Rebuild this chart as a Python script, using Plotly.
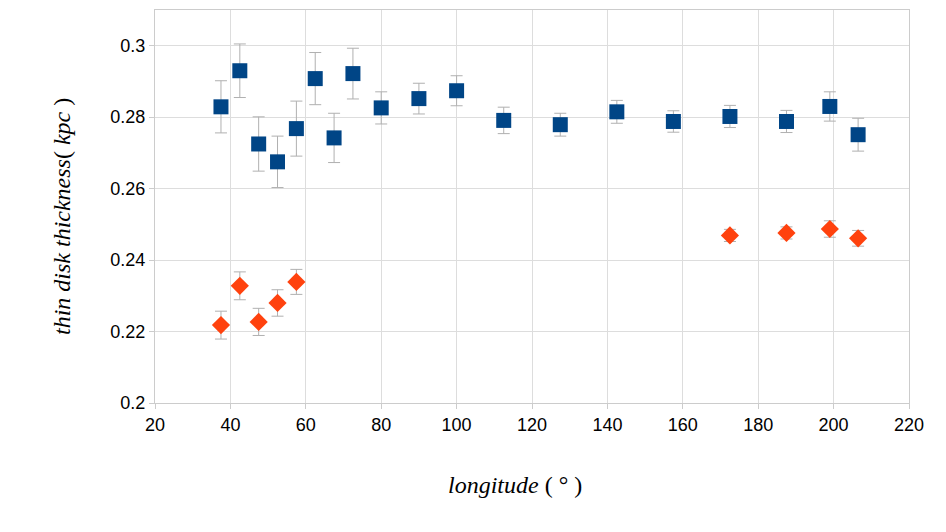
import plotly.graph_objects as go

# Blue series (squares)
lon_a = [37.5, 42.5, 47.5, 52.5, 57.5, 62.5, 67.5, 72.5, 80, 90, 100, 112.5, 127.5, 142.5, 157.5, 172.5, 187.5, 199, 206.5]
h_a = [0.2829, 0.2930, 0.2725, 0.2675, 0.2768, 0.2908, 0.2742, 0.2922, 0.2826, 0.2852, 0.2874, 0.2791, 0.2779, 0.2815, 0.2788, 0.2802, 0.2788, 0.2830, 0.2751]
err_a = [0.0073, 0.0075, 0.0076, 0.0072, 0.0077, 0.0073, 0.0069, 0.0071, 0.0045, 0.0043, 0.0042, 0.0037, 0.0032, 0.0032, 0.0030, 0.0031, 0.0031, 0.0041, 0.0046]

# Red series (diamonds)
lon_b = [37.5, 42.5, 47.5, 52.5, 57.5, 172.5, 187.5, 199, 206.5]
h_b = [0.2218, 0.2328, 0.2227, 0.2280, 0.2339, 0.2469, 0.2476, 0.2487, 0.2461]
err_b = [0.0039, 0.0039, 0.0038, 0.0037, 0.0035, 0.0017, 0.0017, 0.0023, 0.0022]

x_title = "<i>longitude</i> ( ° )"
y_title = "<i>thin disk thickness</i>( <i>kpc</i> )"

fig = go.Figure()
fig.add_trace(go.Scatter(
    x=lon_a, y=h_a, mode="markers",
    marker=dict(symbol="square", size=15, color="#004586"),
    error_y=dict(type="data", array=err_a, visible=True, color="#b0b0b0", thickness=1, width=6),
    showlegend=False))
fig.add_trace(go.Scatter(
    x=lon_b, y=h_b, mode="markers",
    marker=dict(symbol="diamond", size=14, color="#ff420e"),
    error_y=dict(type="data", array=err_b, visible=True, color="#b0b0b0", thickness=1, width=6),
    showlegend=False))

title_font = dict(family="Liberation Serif", size=24, color="black")
fig.update_layout(
    width=946, height=532,
    margin=dict(l=155, r=37, t=10, b=129),
    paper_bgcolor="white", plot_bgcolor="white",
    font=dict(family="Liberation Sans", size=18, color="black"),
    xaxis=dict(
        range=[20, 220], dtick=20, tick0=20,
        showgrid=True, gridcolor="#dddddd", zeroline=False,
        showline=True, linecolor="#cccccc", mirror=True,
        ticks="outside", ticklen=5, tickcolor="#cccccc",
    ),
    yaxis=dict(
        range=[0.2, 0.31], dtick=0.02, tick0=0.2,
        showgrid=True, gridcolor="#dddddd", zeroline=False,
        showline=True, linecolor="#cccccc", mirror=True,
        ticks="outside", ticklen=5, tickcolor="#cccccc",
    ),
    annotations=[
        dict(text=x_title, xref="paper", yref="paper", x=0.4775, y=-0.2087,
             xanchor="center", yanchor="middle", showarrow=False, font=title_font),
        dict(text=y_title, xref="paper", yref="paper", x=-0.1233, y=0.4733,
             xanchor="center", yanchor="middle", showarrow=False, textangle=-90, font=title_font),
    ],
)

fig.write_html("out.html")
